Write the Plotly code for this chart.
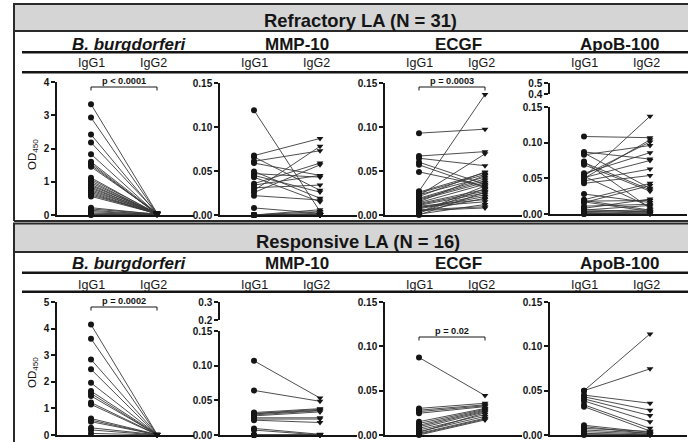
import plotly.graph_objects as go

W, H = 688, 442
FONT = "Liberation Sans, Arial, sans-serif"
INK = "#151515"

groups = ["IgG1", "IgG2"]
antigens = ["<i>B. burgdorferi</i>", "MMP-10", "ECGF", "ApoB-100"]
row_titles = ["Refractory LA (N = 31)", "Responsive LA (N = 16)"]
p_labels = ["p < 0.0001", "p = 0.0003", "p = 0.0002", "p = 0.02"]

# ---------------- Refractory LA (N = 31) ----------------
bb_ref_igg1 = [3.33, 2.93, 2.42, 2.18, 1.83, 1.60, 1.55, 1.50, 1.45, 1.12, 1.07, 1.02, 0.97, 0.92, 0.88, 0.84,
               0.80, 0.76, 0.72, 0.68, 0.64, 0.60, 0.56, 0.22, 0.18, 0.14, 0.10, 0.06, 0.03, 0.01, 0.00]
bb_ref_igg2 = [0.06, 0.05, 0.04, 0.07, 0.03, 0.05, 0.02, 0.04, 0.06, 0.03, 0.05, 0.02, 0.04, 0.03, 0.06, 0.02,
               0.05, 0.03, 0.04, 0.02, 0.03, 0.05, 0.04, 0.02, 0.03, 0.01, 0.02, 0.01, 0.02, 0.01, 0.01]

mmp_ref_igg1 = [0.119, 0.0675, 0.066, 0.061, 0.059, 0.0495, 0.047, 0.045, 0.043, 0.0356, 0.034, 0.031, 0.028,
                0.0255, 0.022, 0.008, 0.0, 0.0, 0.0, 0.0, 0.0, 0.0, 0.0, 0.0, 0.0, 0.0, 0.0, 0.0, 0.0, 0.0, 0.0]
mmp_ref_igg2 = [0.004, 0.087, 0.028, 0.073, 0.045, 0.019, 0.043, 0.026, 0.015, 0.059, 0.045, 0.034, 0.078,
                0.057, 0.017, 0.002, 0.006, 0.0, 0.0, 0.004, 0.0, 0.002, 0.0, 0.0, 0.0, 0.0, 0.0, 0.0, 0.0, 0.0, 0.0]

ecgf_ref_igg1 = [0.093, 0.067, 0.0645, 0.060, 0.057, 0.049, 0.027, 0.022, 0.026, 0.025, 0.023, 0.021, 0.019,
                 0.018, 0.017, 0.015, 0.014, 0.013, 0.012, 0.011, 0.010, 0.009, 0.008, 0.007, 0.006, 0.005,
                 0.004, 0.003, 0.002, 0.001, 0.0]
ecgf_ref_igg2 = [0.0975, 0.072, 0.056, 0.035, 0.031, 0.033, 0.137, 0.0695, 0.048, 0.046, 0.043, 0.049, 0.041,
                 0.039, 0.037, 0.045, 0.035, 0.029, 0.027, 0.025, 0.0176, 0.015, 0.023, 0.021, 0.0094, 0.008,
                 0.019, 0.033, 0.030, 0.012, 0.026]

apob_ref_igg1 = [0.1086, 0.087, 0.0855, 0.083, 0.0736, 0.072, 0.069, 0.057, 0.0545, 0.052, 0.050, 0.0464,
                 0.043, 0.051, 0.053, 0.028, 0.020, 0.018, 0.016, 0.011, 0.008, 0.0055, 0.0036, 0.002, 0.0,
                 0.019, 0.017, 0.006, 0.004, 0.001, 0.0]
apob_ref_igg2 = [0.107, 0.077, 0.036, 0.096, 0.008, 0.034, 0.032, 0.086, 0.101, 0.137, 0.104, 0.063,
                 0.054, 0.075, 0.010, 0.016, 0.043, 0.019, 0.040, 0.0136, 0.021, 0.012, 0.006, 0.004, 0.002,
                 0.0055, 0.0036, 0.003, 0.001, 0.0, 0.0]

# ---------------- Responsive LA (N = 16) ----------------
bb_resp_igg1 = [4.15, 3.62, 2.84, 2.47, 1.96, 1.65, 1.56, 1.47, 1.22, 1.15, 0.62, 0.56, 0.50, 0.27, 0.19, 0.06]
bb_resp_igg2 = [0.03, 0.02, 0.03, 0.01, 0.02, 0.03, 0.01, 0.02, 0.02, 0.01, 0.02, 0.01, 0.01, 0.01, 0.0, 0.0]

mmp_resp_igg1 = [0.107, 0.0643, 0.0324, 0.031, 0.0305, 0.029, 0.0276, 0.0248, 0.023, 0.0214, 0.0095, 0.0071,
                 0.0, 0.0, 0.0, 0.0]
mmp_resp_igg2 = [0.0533, 0.0486, 0.038, 0.037, 0.0357, 0.035, 0.0333, 0.0248, 0.023, 0.018, 0.001, 0.0,
                 0.0, 0.0, 0.0, 0.0]

ecgf_resp_igg1 = [0.0874, 0.030, 0.028, 0.0264, 0.0245, 0.015, 0.013, 0.011, 0.0094, 0.0075, 0.0057, 0.0038,
                  0.0019, 0.0, 0.001, 0.003]
ecgf_resp_igg2 = [0.0445, 0.0358, 0.034, 0.033, 0.032, 0.030, 0.029, 0.028, 0.027, 0.026, 0.023, 0.021,
                  0.019, 0.017, 0.018, 0.025]

apob_resp_igg1 = [0.050, 0.050, 0.045, 0.043, 0.0407, 0.0384, 0.034, 0.032, 0.011, 0.0094, 0.0075, 0.0057,
                  0.0038, 0.0019, 0.0, 0.001]
apob_resp_igg2 = [0.114, 0.0746, 0.0358, 0.028, 0.0219, 0.015, 0.0075, 0.0045, 0.003, 0.0015, 0.004, 0.002,
                  0.001, 0.0, 0.0, 0.0005]

bb_ticks = [[0, 1, 2, 3, 4], [0, 1, 2, 3, 4, 5]]
od_ticks = [0, 0.05, 0.10, 0.15]
od_ticktext = ["0.00", "0.05", "0.10", "0.15"]


def X(p):
    return p / W


def Y(p):
    return 1 - p / H


panel_left = [57, 220, 385, 550]
AX_LEN = 137
IG1_OFF, UNIT = 34, 66
title_x = [129, 297, 458, 619]

panels = [
    dict(row=0, col=0, g1=bb_ref_igg1, g2=bb_ref_igg2, zero=215, top=82, ymax=4,
         tv=bb_ticks[0], tt=[str(v) for v in bb_ticks[0]], p=p_labels[0], pbar=87),
    dict(row=0, col=1, g1=mmp_ref_igg1, g2=mmp_ref_igg2, zero=215, top=83, ymax=0.15, tv=od_ticks, tt=od_ticktext),
    dict(row=0, col=2, g1=ecgf_ref_igg1, g2=ecgf_ref_igg2, zero=215, top=83, ymax=0.15, tv=od_ticks,
         tt=od_ticktext, p=p_labels[1], pbar=87),
    dict(row=0, col=3, g1=apob_ref_igg1, g2=apob_ref_igg2, zero=214, top=107, ymax=0.15, tv=od_ticks,
         tt=od_ticktext, brk=(94, 83, [0.4, 0.5], ["0.4", "0.5"])),
    dict(row=1, col=0, g1=bb_resp_igg1, g2=bb_resp_igg2, zero=435, top=302, ymax=5,
         tv=bb_ticks[1], tt=[str(v) for v in bb_ticks[1]], p=p_labels[2], pbar=307),
    dict(row=1, col=1, g1=mmp_resp_igg1, g2=mmp_resp_igg2, zero=435, top=331, ymax=0.15, tv=od_ticks,
         tt=od_ticktext, brk=(320, 302, [0.2, 0.3], ["0.2", "0.3"])),
    dict(row=1, col=2, g1=ecgf_resp_igg1, g2=ecgf_resp_igg2, zero=435, top=302, ymax=0.15, tv=od_ticks,
         tt=od_ticktext, p=p_labels[3], pbar=337),
    dict(row=1, col=3, g1=apob_resp_igg1, g2=apob_resp_igg2, zero=435, top=302, ymax=0.15, tv=od_ticks,
         tt=od_ticktext),
]

fig = go.Figure()
layout = {}
shapes = []
annotations = []


def ax_names(n):
    s = "" if n == 1 else str(n)
    return "xaxis" + s, "yaxis" + s, "x" + s, "y" + s


def note(text, x, y, xref="paper", size=12, **kw):
    d = dict(text=text, x=x, y=y, xref=xref, yref="paper", xanchor="center", yanchor="middle",
             showarrow=False, font=dict(family=FONT, size=size, color=INK))
    d.update(kw)
    annotations.append(d)


xr = [-IG1_OFF / UNIT, (AX_LEN - IG1_OFF) / UNIT]
tickfont = dict(family=FONT, size=10, color=INK, weight="bold")
extra_y = 9

for i, pn in enumerate(panels):
    n = i + 1
    xa, ya, xr_name, yr_name = ax_names(n)
    x0 = panel_left[pn["col"]]
    layout[xa] = dict(domain=[X(x0), X(x0 + AX_LEN)], anchor=yr_name, type="category",
                      categoryorder="array", categoryarray=groups, range=xr,
                      showline=True, linewidth=2, linecolor=INK, showticklabels=False,
                      ticks="", showgrid=False, zeroline=False, automargin=False)
    layout[ya] = dict(domain=[Y(pn["zero"]), Y(pn["top"])], anchor=xr_name, range=[0, pn["ymax"]],
                      tickvals=pn["tv"], ticktext=pn["tt"], ticks="outside", ticklen=4, tickwidth=1.5,
                      tickcolor=INK, showline=True, linewidth=1.5, linecolor=INK, tickfont=tickfont,
                      showgrid=False, zeroline=False, automargin=False)

    xs, ys, syms = [], [], []
    for a, b in zip(pn["g1"], pn["g2"]):
        xs += [groups[0], groups[1], None]
        ys += [a, b, None]
        syms += ["circle", "triangle-down", "circle"]
    fig.add_trace(go.Scatter(x=xs, y=ys, xaxis=xr_name, yaxis=yr_name, mode="lines+markers",
                             line=dict(color="#3a3a3a", width=0.9),
                             marker=dict(symbol=syms, size=6, color=INK, line=dict(width=0)),
                             cliponaxis=False, showlegend=False, hoverinfo="skip"))

    if "brk" in pn:
        b0, b1, btv, btt = pn["brk"]
        yb = "yaxis%d" % extra_y
        layout[yb] = dict(domain=[Y(b0), Y(b1)], anchor=xr_name, range=[btv[0], btv[-1]],
                          tickvals=btv, ticktext=btt, ticks="outside", ticklen=4, tickwidth=1.5,
                          tickcolor=INK, showline=True, linewidth=1.5, linecolor=INK, tickfont=tickfont,
                          showgrid=False, zeroline=False, automargin=False)
        fig.add_trace(go.Scatter(x=[None], y=[None], xaxis=xr_name, yaxis="y%d" % extra_y,
                                 showlegend=False, hoverinfo="skip"))
        extra_y += 1

    # group labels above each panel
    row_ig_y = [63.5, 284.5][pn["row"]]
    for k, g in enumerate(groups):
        note(g, k, Y(row_ig_y), xref=xr_name, size=12.5, xshift=(-4 if k == 1 else 0))
    # antigen titles
    note("<b>%s</b>" % antigens[pn["col"]], X(title_x[pn["col"]]), Y([44.3, 263.4][pn["row"]]), size=17)
    # significance bracket
    if "p" in pn:
        yb0 = pn["pbar"]
        for sx0, sx1, sy0, sy1 in [(0, 1, yb0, yb0), (0, 0, yb0, yb0 + 3.5), (1, 1, yb0, yb0 + 3.5)]:
            shapes.append(dict(type="line", xref=xr_name, yref="paper", x0=sx0, x1=sx1,
                               y0=Y(sy0), y1=Y(sy1), line=dict(color=INK, width=1)))
        note("<b>%s</b>" % pn["p"], 0.5, Y(yb0 - 6), xref=xr_name, size=9.2)

# OD450 axis titles
for yc in [155, 373]:
    note("OD<sub>450</sub>", X(33), Y(yc), size=11.5, textangle=-90)

# row header bands and frames
bands = [(4, 31, 20.5, 360), (223.5, 252, 241.5, 358)]
for r, (t, b, ty, tx) in enumerate(bands):
    shapes.append(dict(type="rect", xref="paper", yref="paper", x0=X(14), x1=X(700), y0=Y(b), y1=Y(t),
                       fillcolor="#d5d5d5", line=dict(color="#2a2a2a", width=2), layer="below"))
    note("<b>%s</b>" % row_titles[r], X(tx), Y(ty), size=18.4)

# left frame edges and row separator
shapes.append(dict(type="line", xref="paper", yref="paper", x0=X(14), x1=X(14), y0=Y(4), y1=Y(221),
                   line=dict(color="#2a2a2a", width=2)))
shapes.append(dict(type="line", xref="paper", yref="paper", x0=X(14), x1=X(14), y0=Y(223.5), y1=Y(445),
                   line=dict(color="#2a2a2a", width=2)))
shapes.append(dict(type="line", xref="paper", yref="paper", x0=X(14), x1=X(700), y0=Y(221), y1=Y(221),
                   line=dict(color="#2a2a2a", width=2)))

# horizontal rules under titles and group labels
for yl in [52.3, 72.3, 272.7, 291.7]:
    shapes.append(dict(type="line", xref="paper", yref="paper", x0=X(22), x1=X(700), y0=Y(yl), y1=Y(yl),
                       line=dict(color=INK, width=2.5)))

fig.update_layout(**layout)
fig.update_layout(width=W, height=H, autosize=False,
                  margin=dict(l=0, r=0, t=0, b=0, pad=0, autoexpand=False),
                  paper_bgcolor="white", plot_bgcolor="white", showlegend=False,
                  shapes=shapes, annotations=annotations, font=dict(family=FONT, color=INK))

fig.write_html("out.html", config={"displayModeBar": False},
               post_script="document.body.style.margin='0';document.body.style.overflow='hidden';")
